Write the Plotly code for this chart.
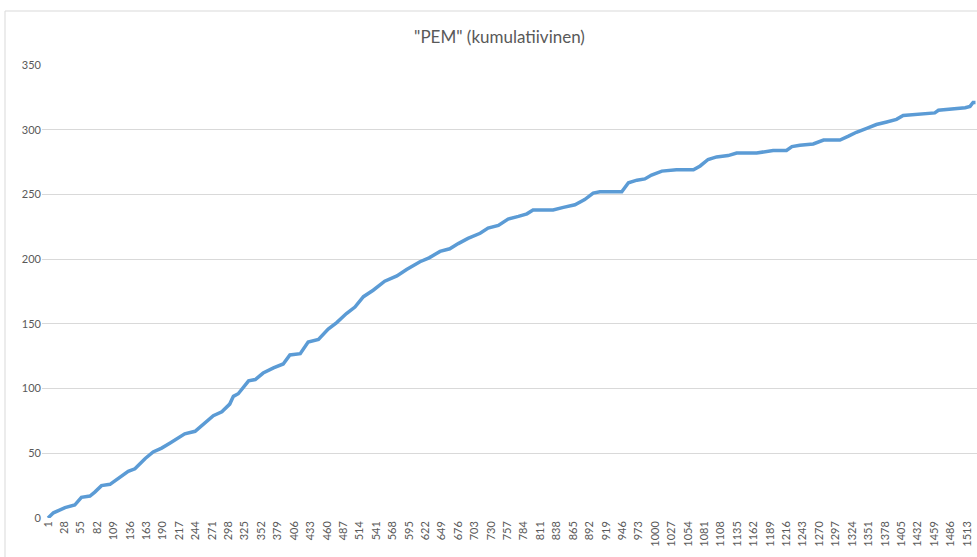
import plotly.graph_objects as go

# Cumulative "PEM" count (category index -> cumulative value)
categories = [1, 10, 29, 45, 56, 70, 78, 89, 103, 117, 133, 144, 161, 174, 188, 202,
              213, 226, 243, 257, 273, 287, 300, 306, 314, 331, 342, 355, 372, 388,
              399, 416, 429, 446, 462, 476, 492, 506, 520, 536, 555, 575, 591, 613,
              628, 646, 662, 676, 692, 712, 725, 742, 758, 775, 789, 799, 832, 849,
              868, 884, 898, 909, 945, 956, 970, 983, 994, 1011, 1035, 1063, 1074,
              1087, 1101, 1120, 1134, 1167, 1178, 1194, 1216, 1225, 1238, 1260, 1277,
              1304, 1318, 1331, 1348, 1364, 1381, 1397, 1408, 1430, 1447, 1460, 1466,
              1493, 1510, 1518, 1523, 1527]
values = [0, 4, 8, 10, 16, 17, 20, 25, 26, 31, 36, 38, 46, 51, 54, 58,
          61, 65, 67, 73, 79, 82, 88, 94, 96, 106, 107, 112, 116, 119,
          126, 127, 136, 138, 146, 151, 158, 163, 171, 176, 183, 187, 192, 198,
          201, 206, 208, 212, 216, 220, 224, 226, 231, 233, 235, 238, 238, 240,
          242, 246, 251, 252, 252, 259, 261, 262, 265, 268, 269, 269, 272,
          277, 279, 280, 282, 282, 283, 284, 284, 287, 288, 289, 292,
          292, 295, 298, 301, 304, 306, 308, 311, 312, 313, 313, 315,
          316, 317, 318, 321, 321]

tick_labels = [1, 28, 55, 82, 109, 136, 163, 190, 217, 244, 271, 298, 325, 352, 379,
               406, 433, 460, 487, 514, 541, 568, 595, 622, 649, 676, 703, 730, 757,
               784, 811, 838, 865, 892, 919, 946, 973, 1000, 1027, 1054, 1081, 1108,
               1135, 1162, 1189, 1216, 1243, 1270, 1297, 1324, 1351, 1378, 1405, 1432,
               1459, 1486, 1513]
y_ticks = [0, 50, 100, 150, 200, 250, 300, 350]

W, H = 977, 557
L, R, T, B = 42, 0, 65, 39
pw, ph = W - L - R, H - T - B
px_per_cat = 0.6078
x0 = 1 - (48 - L) / px_per_cat
x1 = 1 + (W - R - 48) / px_per_cat

fig = go.Figure()
fig.add_trace(go.Scatter(
    x=categories, y=values, mode="lines",
    line=dict(color="#5B9BD5", width=3.5),
    hoverinfo="x+y", showlegend=False,
))

grey = "#595959"
fig.update_layout(
    width=W, height=H,
    margin=dict(l=L, r=R, t=T, b=B, autoexpand=False),
    paper_bgcolor="white", plot_bgcolor="white",
    font=dict(family="Lato, Carlito, Calibri, sans-serif", color=grey, size=11),
    title=dict(text='"PEM" (kumulatiivinen)', x=499.5 / W, xref="container",
               xanchor="center", y=1 - 37 / H, yref="container", yanchor="middle",
               font=dict(size=17, color=grey, family="Lato, Carlito, Calibri, sans-serif")),
    xaxis=dict(range=[x0, x1], tickmode="array", tickvals=tick_labels,
               ticktext=[str(t) for t in tick_labels], tickangle=-90,
               showgrid=False, zeroline=False, showline=False, ticks="",
               tickfont=dict(size=11, color=grey), automargin=False),
    yaxis=dict(range=[0, 350], tickmode="array", tickvals=y_ticks,
               showgrid=True, gridcolor="#D9D9D9", gridwidth=1, zeroline=False,
               showline=False, ticks="", tickfont=dict(size=11, color=grey),
               automargin=False),
    shapes=[dict(type="rect", xref="paper", yref="paper",
                 x0=(5 - L) / pw, x1=1.02, y0=-(H + 5 - (H - B)) / ph,
                 y1=1 + (T - 11) / ph,
                 line=dict(color="#D9D9D9", width=1), fillcolor="rgba(0,0,0,0)",
                 layer="below")],
)

fig.write_html("out.html", config={"displayModeBar": False},
               post_script="document.body.style.margin='0';document.body.style.overflow='hidden';")
